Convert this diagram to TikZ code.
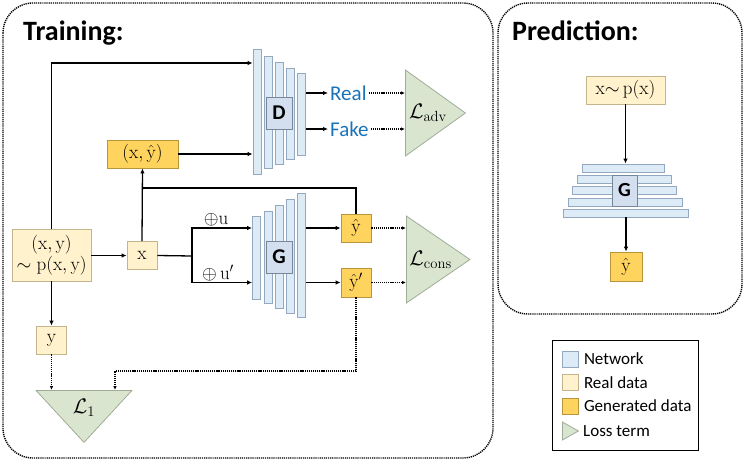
\RequirePackage{fix-cm}
\documentclass[tikz,border=0pt]{standalone}
\usepackage{amsmath,amssymb}
\usepackage{fontspec}
\newfontfamily\calibri{Carlito}
\usepackage{tikz}
\usetikzlibrary{positioning}
\usetikzlibrary{shapes.geometric,arrows.meta,calc}

\definecolor{netfill}{HTML}{DDEBF7}
\definecolor{netline}{HTML}{94A9BF}
\definecolor{gboxfill}{HTML}{D3DFEE}
\definecolor{realfill}{HTML}{FFF2CC}
\definecolor{realline}{HTML}{C4B48A}
\definecolor{genfill}{HTML}{FFD45E}
\definecolor{genline}{HTML}{B8943A}
\definecolor{lossfill}{HTML}{DAE5D0}
\definecolor{lossline}{HTML}{9FAC97}
\definecolor{outblue}{HTML}{1A73B8}

\newcommand{\sz}[1]{\fontsize{#1}{1.1\dimexpr#1pt\relax}\selectfont}

\begin{document}
\begin{tikzpicture}[x=1pt, y=-1pt,
    layer/.style = {draw=netline, fill=netfill, inner sep=0pt, line width=0.8pt},
    netbox/.style = {draw=netline!80!black, fill=gboxfill, inner sep=0pt, line width=0.8pt, font=\calibri\bfseries\sz{21}},
    real/.style = {draw=realline, fill=realfill, inner sep=0pt, line width=0.8pt, font=\sz{19}},
    gen/.style = {draw=genline, fill=genfill, inner sep=0pt, line width=0.8pt, font=\sz{19}},
    loss/.style = {draw=lossline, fill=lossfill, isosceles triangle, isosceles triangle stretches, inner sep=0pt, line width=0.8pt, font=\sz{21}},
    arr/.style = {line width=1.3pt, -{Latex[length=5pt,width=4.5pt]}},
    dotarr/.style = {line width=1.3pt, dash pattern=on 1.2pt off 0.9pt, -{Latex[length=4pt,width=3.5pt]}},
    panel/.style = {line width=1.4pt, dash pattern=on 1.2pt off 0.9pt, rounded corners=30pt},
    title/.style = {font=\calibri\bfseries\sz{28}, anchor=base west, inner sep=0pt},
    outtxt/.style = {font=\calibri\sz{21}, text=outblue, anchor=west, inner sep=2pt},
    keytxt/.style = {font=\calibri\sz{17}, inner sep=0pt}]
    \useasboundingbox (0,0) rectangle (745,463);

    % panels
    \draw[panel] (3,3) rectangle (493,458);
    \draw[panel] (498,3) rectangle (742,314);
    \node[title] (ttrain) at (23,40) {Training:};
    \node[title] (tpred) at (512,40) {Prediction:};

    % discriminator
    \foreach \i/\xc/\ya/\yb in {1/257/49/174, 2/268/56/168, 3/279/62/164, 4/290/68/159, 5/301.5/73/155}
      \node[layer, minimum width=8, minimum height={\yb-\ya}] (d\i) at (\xc,{(\ya+\yb)/2}) {};
    \node[netbox, minimum width=26, minimum height=32] (dbox) at (279,113) {D};

    % generator
    \foreach \i/\xc/\ya/\yb in {1/256.5/216/299, 2/268/211/303, 3/279/205/308, 4/290/199/313, 5/301.5/193/317}
      \node[layer, minimum width=8, minimum height={\yb-\ya}] (g\i) at (\xc,{(\ya+\yb)/2}) {};
    \node[netbox, minimum width=26, minimum height=32] (gbox) at (279,257) {G};

    % data
    \node[real, minimum width=79, minimum height=52, align=center] (xy) at (51.5,255)
      {$(\mathrm{x},\mathrm{y})$\\$\sim\mathrm{p}(\mathrm{x},\mathrm{y})$};
    \node[real, minimum width=30, minimum height=28] (xin) at (142,255.5) {$\mathrm{x}$};
    \node[real, minimum width=30, minimum height=28] (ytrue) at (51.5,340) {$\mathrm{y}$};
    \node[gen, minimum width=71, minimum height=28] (xyhat) at (142.5,154) {$(\mathrm{x},\hat{\mathrm{y}})$};
    \node[gen, minimum width=30, minimum height=28] (yhat) at (356,228) {$\hat{\mathrm{y}}$};
    \node[gen, minimum width=30, minimum height=29] (yhatp) at (356,282.5) {$\hat{\mathrm{y}}'$};
    \node[font=\sz{19}, inner sep=0pt] (pu) at (216,220) {$\oplus\mathrm{u}$};
    \node[font=\sz{19}, inner sep=0pt] (pup) at (218,273.5) {$\oplus\,\mathrm{u}'$};

    % outputs of D
    \node[outtxt] (real) at (328,93) {Real};
    \node[outtxt] (fake) at (328,129) {Fake};

    % losses
    \node[loss, minimum height=60, minimum width=86, anchor=west] (ladv) at (405,113) {$\mathcal{L}_{\mathrm{adv}}$};
    \node[loss, minimum height=59, minimum width=87, anchor=west] (lcons) at (406,259.5) {$\mathcal{L}_{\mathrm{cons}}$};
    \node[loss, shape border rotate=270, minimum height=52, minimum width=96, anchor=north] (lone) at (84,390) {$\mathcal{L}_1$};

    \coordinate (dtop) at (257,63);
    \coordinate (fb) at (142,188);
    \coordinate (split) at (192,256);
    \coordinate (lonein) at ($(lone.north)+(31,0)$);

    % training connectors
    \draw[arr] (xy.north) |- (d1.west |- dtop);
    \draw[arr] (xyhat.east) -- (d1.west |- xyhat.east);
    \draw[arr] (xy.east |- xin.west) -- (xin.west);
    \draw[arr] (xin.north) -- (xyhat.south);
    \draw[line width=1.3pt] (yhat.north) |- (fb);
    \draw[line width=1.3pt] (xin.east) -- (split);
    \draw[arr] (split) |- (g1.west |- yhat.west);
    \draw[arr] (split) |- (g1.west |- yhatp.west);
    \draw[arr] (g5.east |- yhat.west) -- (yhat.west);
    \draw[arr] (g5.east |- yhatp.west) -- (yhatp.west);
    \draw[arr] (d5.east |- real.west) -- (real.west);
    \draw[arr] (d5.east |- fake.west) -- (fake.west);
    \draw[arr] (xy.south) -- (ytrue.north);
    \draw[dotarr] (real.east) -- (real.east -| ladv.west);
    \draw[dotarr] (fake.east) -- (fake.east -| ladv.west);
    \draw[dotarr] (yhat.east) -- (yhat.east -| lcons.west);
    \draw[dotarr] (yhatp.east) -- (yhatp.east -| lcons.west);
    \draw[dotarr] (ytrue.south) -- (ytrue.south |- lone.north);
    \draw[dotarr] (yhatp.south) |- ([yshift=19pt]lonein) -- (lonein);

    % prediction
    \node[real, minimum width=79, minimum height=28] (px) at (625.5,90) {$\mathrm{x}{\sim}\,\mathrm{p}(\mathrm{x})$};
    \foreach \i/\xa/\xb/\yc in {1/582/664/168, 2/577/671/179.5, 3/572/676/190.5, 4/568/682/202, 5/563/688/213}
      \node[layer, minimum height=8, minimum width={\xb-\xa}] (p\i) at ({(\xa+\xb)/2},\yc) {};
    \node[netbox, minimum width=25, minimum height=31, font=\calibri\bfseries\sz{20}] (pgbox) at (624.5,190.5) {G};
    \node[gen, minimum width=32, minimum height=29] (pyhat) at (626,266.5) {$\hat{\mathrm{y}}$};
    \draw[arr] (px.south) -- (px.south |- p1.north);
    \draw[arr] (pyhat.north |- p5.south) -- (pyhat.north);

    % legend
    \node[draw, line width=1pt, minimum width=146, minimum height=110, inner sep=0pt] (legend) at (625,395) {};
    \node[layer, minimum size=16, anchor=west] (k1) at (562,359) {};
    \node[real, minimum size=16, anchor=west] (k2) at (562,382.5) {};
    \node[gen, minimum size=16, anchor=west] (k3) at (562,406) {};
    \node[loss, minimum height=16, minimum width=18, anchor=west] (k4) at (562,431) {};
    \node[keytxt, right=5pt of k1] (t1) {Network};
    \node[keytxt, right=5pt of k2] (t2) {Real data};
    \node[keytxt, right=5pt of k3] (t3) {Generated data};
    \node[keytxt, anchor=west] (t4) at (583,431) {Loss term};
\end{tikzpicture}
\end{document}
